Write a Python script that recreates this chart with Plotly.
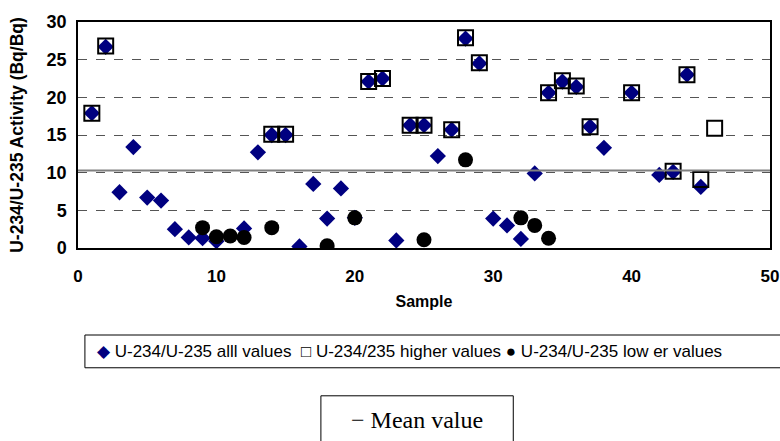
import plotly.graph_objects as go

# All values (diamonds)
all_x = [1, 2, 3, 4, 5, 6, 7, 8, 9, 10, 12, 13, 14, 15, 16, 17, 18, 19, 20, 21, 22, 23, 24, 25, 26, 27, 28, 29,
         30, 31, 32, 33, 34, 35, 36, 37, 38, 40, 42, 43, 44, 45]
all_y = [17.9, 26.7, 7.4, 13.4, 6.7, 6.3, 2.5, 1.4, 1.3, 0.9, 2.6, 12.7, 15.0, 15.0, 0.2, 8.5, 3.9, 7.9, 4.0,
         22.1, 22.5, 1.0, 16.3, 16.3, 12.2, 15.7, 27.8, 24.5, 3.9, 3.0, 1.2, 9.9, 20.6, 22.1, 21.4, 16.1, 13.3,
         20.6, 9.7, 10.1, 23.0, 8.1]

# Higher values (open squares)
hi_x = [1, 2, 14, 15, 21, 22, 24, 25, 27, 28, 29, 34, 35, 36, 37, 40, 43, 44, 45, 46]
hi_y = [17.9, 26.8, 15.1, 15.1, 22.1, 22.5, 16.3, 16.3, 15.7, 27.9, 24.6, 20.6, 22.2, 21.5, 16.1, 20.6,
        10.2, 23.0, 9.1, 15.9]

# Lower values (black circles)
lo_x = [9, 10, 11, 12, 14, 18, 20, 25, 28, 32, 33, 34]
lo_y = [2.7, 1.5, 1.6, 1.4, 2.7, 0.3, 4.0, 1.1, 11.7, 4.0, 3.0, 1.3]

MEAN = 10.3

NAMES = ["U-234/U-235 alll values", "U-234/235 higher values", "U-234/U-235 low er values"]

fig = go.Figure()
fig.add_trace(go.Scatter(x=all_x, y=all_y, mode="markers", name=NAMES[0],
                         marker=dict(symbol="diamond", size=12.5, color="#000080")))
fig.add_trace(go.Scatter(x=hi_x, y=hi_y, mode="markers", name=NAMES[1],
                         marker=dict(symbol="square-open", size=15, color="#000000", line=dict(width=2))))
fig.add_trace(go.Scatter(x=lo_x, y=lo_y, mode="markers", name=NAMES[2],
                         marker=dict(symbol="circle", size=15, color="#000000")))

fig.add_shape(type="line", xref="paper", x0=0, x1=1, yref="y", y0=MEAN, y1=MEAN,
              line=dict(color="#808080", width=2))

# Legend box (text-based, like the original)
fig.add_shape(type="rect", xref="paper", yref="paper", x0=0.01, x1=1.03, y0=-0.385, y1=-0.53,
              line=dict(color="black", width=1), fillcolor="white")
legend_text = (
    '<span style="color:#000080">◆</span> ' + NAMES[0] + '  '
    '<span style="color:#000000">□</span> ' + NAMES[1] + ' '
    '<span style="color:#000000">●</span> ' + NAMES[2]
)
fig.add_annotation(xref="paper", yref="paper", x=0.024, xanchor="left", y=-0.4575, yanchor="middle",
                   text=legend_text, showarrow=False,
                   font=dict(family="Liberation Sans, Arial, sans-serif", size=17, color="black"))

# Mean value box
fig.add_shape(type="rect", xref="paper", yref="paper", x0=0.351, x1=0.629, y0=-0.654, y1=-0.95,
              line=dict(color="black", width=1), fillcolor="white")
fig.add_annotation(xref="paper", yref="paper", x=0.49, xanchor="center", y=-0.761, yanchor="middle",
                   text="− Mean value", showarrow=False,
                   font=dict(family="Liberation Serif, Times New Roman, serif", size=24, color="black"))

fig.update_layout(
    width=780, height=441,
    margin=dict(l=78, r=10, t=22, b=193),
    plot_bgcolor="white", paper_bgcolor="white",
    font=dict(family="Liberation Sans, Arial, sans-serif", color="black"),
    showlegend=False,
)
fig.update_xaxes(range=[0, 50], dtick=10, showgrid=False, zeroline=False, automargin=False,
                 showline=True, linecolor="black", linewidth=1.5, mirror=True,
                 tickfont=dict(size=17, family="Liberation Sans, Arial, sans-serif", weight="bold"),
                 ticks="", ticklabelstandoff=12,
                 title=dict(text="<b>Sample</b>", font=dict(size=16), standoff=11))
fig.update_yaxes(range=[0, 30], dtick=5, showgrid=True, gridcolor="#555555", griddash="dash", gridwidth=1,
                 zeroline=False, showline=True, linecolor="black", linewidth=1.5, mirror=True, automargin=False,
                 tickfont=dict(size=18, family="Liberation Sans, Arial, sans-serif", weight="bold"),
                 ticks="", ticklabelstandoff=6,
                 title=dict(text="<b>U-234/U-235 Activity (Bq/Bq)</b>", font=dict(size=17.5), standoff=18))

fig.write_html("out.html", config={"displayModeBar": False},
               post_script="document.body.style.margin='0px';document.body.style.overflow='hidden';")
